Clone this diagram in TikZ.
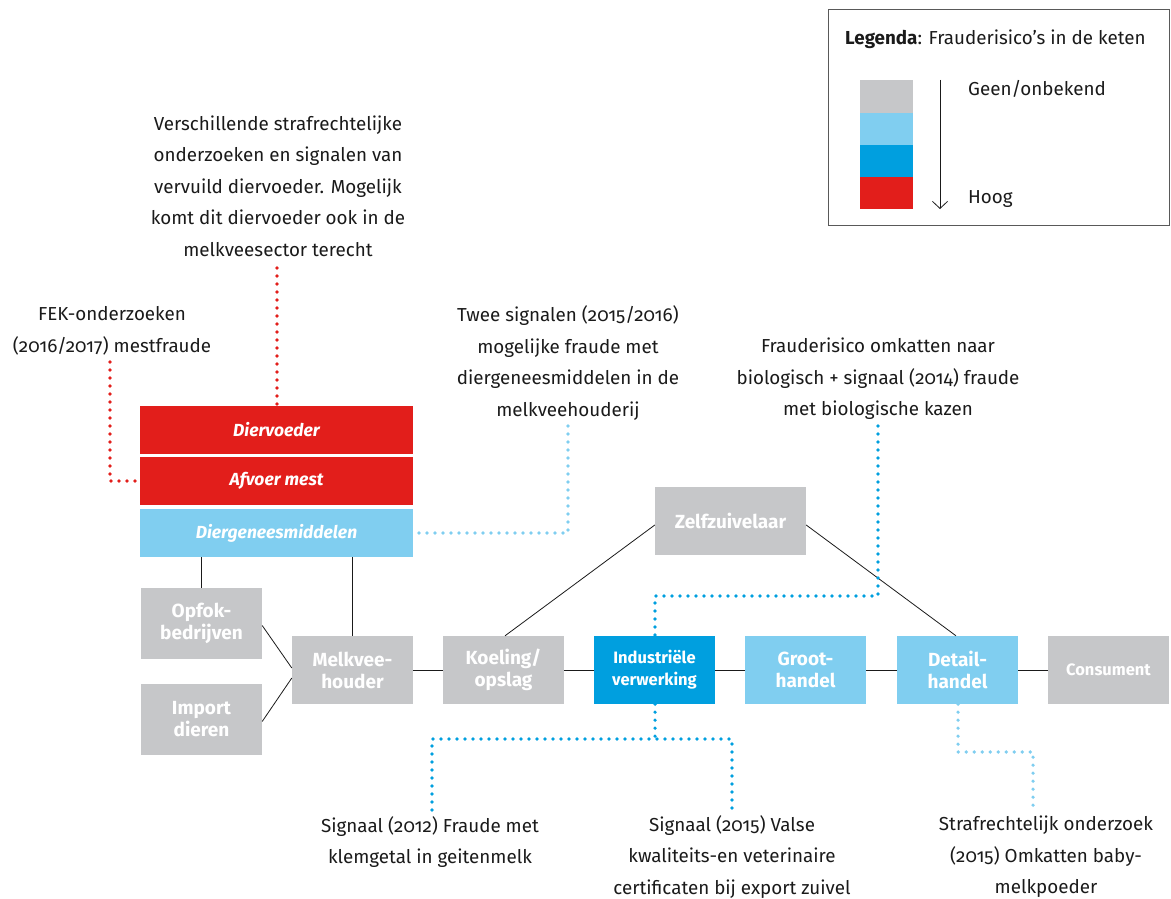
\documentclass[tikz,border=0pt]{standalone}
\usepackage{fontspec}
\setmainfont{Fira Sans}[RawFeature={+onum}]
\usetikzlibrary{arrows.meta}
\definecolor{rred}{HTML}{E21E1B}
\definecolor{lblue}{HTML}{80CEF0}
\definecolor{mblue}{HTML}{009FDF}
\definecolor{rgray}{HTML}{C6C7C9}
\definecolor{txt}{HTML}{1A1A1A}
\begin{document}
\begin{tikzpicture}[x=1pt,y=-1pt,
  box/.style={draw=none,inner sep=0pt,align=center,text=white,
    font=\fontsize{19}{22}\selectfont\bfseries},
  smallbox/.style={box,font=\fontsize{16.5}{22}\selectfont\bfseries},
  ibox/.style={box,font=\fontsize{17.5}{21}\selectfont\bfseries\itshape},
  note/.style={align=center,inner sep=0pt,text=txt,font=\fontsize{18.8}{31.5}\selectfont},
  dots/.style={line width=3.6pt,line cap=round,dash pattern=on 0pt off 8pt},
  link/.style={line width=0.8pt,draw=txt}]
\useasboundingbox (0,0) rectangle (1171,899);

% legend
\node[draw=black!65,line width=1pt,minimum width=341pt,minimum height=215pt,inner sep=0pt] (leg) at (998.5,117.5) {};
\node[note,anchor=west] (legt) at (845,39) {\textbf{Legenda}: Frauderisico’s in de keten};
\node[fill=rgray,minimum width=53pt,minimum height=32.5pt,inner sep=0pt] (l1) at (886.5,96.5) {};
\node[fill=lblue,minimum width=53pt,minimum height=32.5pt,inner sep=0pt] (l2) at (886.5,129) {};
\node[fill=mblue,minimum width=53pt,minimum height=32.5pt,inner sep=0pt] (l3) at (886.5,161) {};
\node[fill=rred,minimum width=53pt,minimum height=32.5pt,inner sep=0pt] (l4) at (886.5,193) {};
\coordinate (la) at (940,80);
\coordinate (lb) at (940,209);
\draw[line width=0.8pt,draw=txt,-{Straight Barb[length=7pt,width=15pt]}] (la) -- (lb);
\node[note,anchor=west] (geen) at (968,89) {Geen/onbekend};
\node[note,anchor=west] (hoog) at (968,199) {Hoog};

% left stack
\node[ibox,fill=rred,minimum width=273pt,minimum height=48pt] (dv) at (276.5,430) {Diervoeder};
\node[ibox,fill=rred,minimum width=273pt,minimum height=48pt] (am) at (276.5,481) {Afvoer mest};
\node[ibox,fill=lblue,minimum width=273pt,minimum height=48pt] (dg) at (276.5,533) {Diergeneesmiddelen};

% chain boxes
\node[box,fill=rgray,minimum width=121pt,minimum height=71pt] (opfok) at (201.5,623.5) {Opfok-\\bedrijven};
\node[box,fill=rgray,minimum width=121pt,minimum height=71pt] (imp) at (201.5,719.5) {Import\\dieren};
\node[box,fill=rgray,minimum width=121pt,minimum height=68pt] (mv) at (352.5,670) {Melkvee-\\houder};
\node[box,fill=rgray,minimum width=121pt,minimum height=68pt] (koel) at (503.5,670) {Koeling/\\opslag};
\node[smallbox,fill=mblue,minimum width=121pt,minimum height=68pt] (ind) at (654.5,670) {Industriële\\verwerking};
\node[box,fill=lblue,minimum width=121pt,minimum height=68pt] (gh) at (805.5,670) {Groot-\\handel};
\node[box,fill=lblue,minimum width=121pt,minimum height=68pt] (det) at (957.5,670) {Detail-\\handel};
\node[smallbox,fill=rgray,minimum width=121pt,minimum height=68pt] (cons) at (1108.5,670) {Consument};
\node[box,fill=rgray,minimum width=151pt,minimum height=68pt] (zz) at (730.5,521) {Zelfzuivelaar};

% solid links
\draw[link] (dg.south -| opfok.north) -- (opfok.north);
\draw[link] (dg.south -| mv.north) -- (mv.north);
\draw[link] ([yshift=-2pt]opfok.east) -- ([yshift=2pt]mv.west);
\draw[link] ([yshift=-2pt]imp.east) -- ([yshift=-8pt]mv.west);
\draw[link] (mv.east) -- (koel.west);
\draw[link] (koel.east) -- (ind.west);
\draw[link] (ind.east) -- (gh.west);
\draw[link] (gh.east) -- (det.west);
\draw[link] (det.east) -- (cons.west);
\draw[link] ([yshift=-4pt]zz.west) -- ([xshift=1.5pt]koel.north);
\draw[link] ([yshift=-4pt]zz.east) -- ([xshift=-1.5pt]det.north);

% notes
\node[note] (n1) at (278,186) {Verschillende strafrechtelijke\\onderzoeken en signalen van\\vervuild diervoeder. Mogelijk\\komt dit diervoeder ook in de\\melkveesector terecht};
\node[note] (n2) at (112,331) {FEK-onderzoeken\\(2016/2017) mestfraude};
\node[note] (n3) at (568,363) {Twee signalen (2015/2016)\\mogelijke fraude met\\diergeneesmiddelen in de\\melkveehouderij};
\node[note] (n4) at (878,379) {Frauderisico omkatten naar\\biologisch + signaal (2014) fraude\\met biologische kazen};
\node[note] (n5) at (430,842) {Signaal (2012) Fraude met\\klemgetal in geitenmelk};
\node[note] (n6) at (732,857) {Signaal (2015) Valse\\kwaliteits-en veterinaire\\certificaten bij export zuivel};
\node[note] (n7) at (1046,857) {Strafrechtelijk onderzoek\\(2015) Omkatten baby-\\melkpoeder};

% dotted connectors
\coordinate (c1) at (277,268);
\draw[dots,rred] (c1) -- (dv.north -| c1);
\coordinate (c2) at (110,362);
\draw[dots,rred] (c2) |- (am.west);
\coordinate (c3) at (568,426);
\draw[dots,lblue] (c3) |- (dg.east);
\coordinate (c4) at (878,426);
\coordinate (c4b) at (655,596);
\draw[dots,mblue] (c4) |- (c4b) -- (ind.north -| c4b);
\coordinate (c5) at (655,739);
\draw[dots,mblue] (ind.south -| c5) -- (c5);
\coordinate (c6) at (432,810);
\coordinate (c7) at (732,739);
\coordinate (c8) at (732,810);
\draw[dots,mblue] (c6) |- (c7) -- (c8);
\coordinate (c9) at (1033,752);
\coordinate (c10) at (1033,810);
\draw[dots,lblue] (det.south -| 958,0) |- (c9) -- (c10);
\end{tikzpicture}
\end{document}
